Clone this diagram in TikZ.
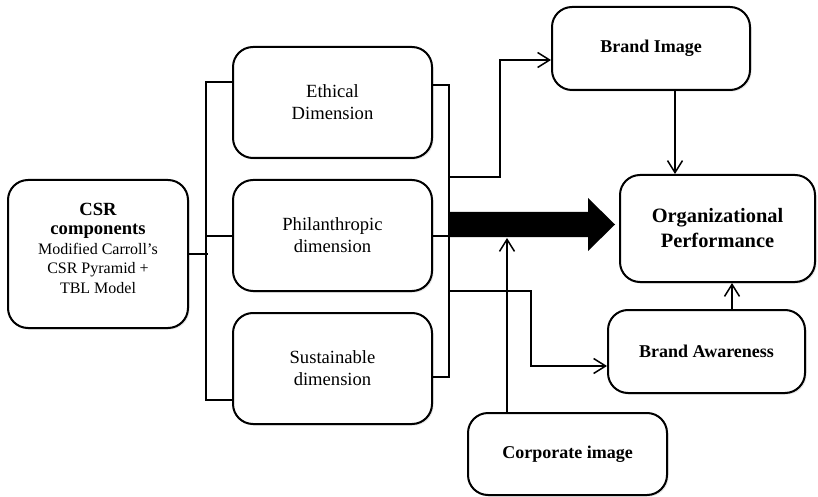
\documentclass[tikz,border=0pt]{standalone}
\usepackage{fontspec}
\setmainfont{Liberation Serif}
\usetikzlibrary{positioning}
\usetikzlibrary{arrows.meta}
\usetikzlibrary{shadows}
\tikzset{x=0.5pt,y=-0.5pt,
    node distance=10pt,
    box/.style={
        draw,
        line width=1pt,
        rounded corners=10pt,
        fill=white,
        align=center,
        inner sep=0pt,
        drop shadow={shadow xshift=0.8pt,shadow yshift=-0.8pt,opacity=0.2},
        font=\fontsize{9.3}{11}\selectfont},
    dimbox/.style={box,
        minimum width=99.5pt,
        minimum height=55.5pt},
    outbox/.style={box,
        minimum width=99pt,
        minimum height=41.5pt,
        font=\bfseries\fontsize{9}{11}\selectfont},
    brace/.style={
        draw,
        line width=1pt},
    conn/.style={
        draw,
        line width=0.75pt,
        -{Straight Barb[length=6pt,width=7.5pt]}}}
\newcommand{\csrhead}[1]{{\bfseries\fontsize{9.3}{10}\selectfont #1}}

\begin{document}
\begin{tikzpicture}
    \useasboundingbox (0,0) rectangle (818,497);

    \node[box,minimum width=90pt,minimum height=74pt,
        font=\fontsize{8}{9.8}\selectfont] (csr) at (98,254)
        {\csrhead{CSR}\\\csrhead{components}\\Modified Carroll's\\CSR Pyramid +\\TBL Model\\[-4pt]};

    \node[dimbox] (eth) at (332.5,102.5) {Ethical\\Dimension};
    \node[dimbox,below=of eth] (phil) {Philanthropic\\dimension};
    \node[dimbox,below=of phil] (sus) {Sustainable\\dimension};

    \node[outbox] (bimg) at (651,48.5) {Brand Image};
    \node[box,minimum width=97.5pt,minimum height=53.5pt,
        font=\bfseries\fontsize{10.2}{12.5}\selectfont] (org) at (717.5,228.5)
        {Organizational\\Performance};
    \node[outbox,minimum width=98.5pt] (baw) at (706.5,351.5) {Brand Awareness};
    \node[outbox,minimum width=99.5pt,minimum height=41pt] (cimg) at (567.5,454) {Corporate image};

    % brackets
    \draw[brace] ([yshift=10.25pt]eth.west) -- ++(-13pt,0) |- ([yshift=-15.5pt]sus.west);
    \draw[brace] (phil.west) -- ++(-13pt,0);
    \draw[brace] (csr.east) -- ++(9.5pt,0);
    \draw[brace] ([yshift=8.75pt]eth.east) -- ++(8pt,0) |- ([yshift=-4pt]sus.east);
    \draw[brace] (phil.east) -- ++(8pt,0);

    % main arrow
    \fill (450,212) -- (588,212) -- (588,198) -- (615,224.5)
        -- (588,251) -- (588,237) -- (450,237) -- cycle;

    \coordinate (bi) at (448,177);
    \coordinate (bicorner) at (500,60);
    \coordinate (ba) at (448,291);
    \coordinate (bacorner) at (531,366);
    \coordinate (ci) at (507,238);
    \coordinate (bo) at ([xshift=12pt]bimg.south);
    \coordinate (ao) at ([xshift=12.75pt]baw.north);

    \draw[conn] (bi) -| (bicorner) -- (bicorner -| bimg.west);
    \draw[conn] (ba) -| (bacorner) -- (bacorner -| baw.west);
    \draw[conn] (cimg.north -| ci) -- (ci);
    \draw[conn] (bo) -- (bo |- org.north);
    \draw[conn] (ao) -- (ao |- org.south);
\end{tikzpicture}
\end{document}
